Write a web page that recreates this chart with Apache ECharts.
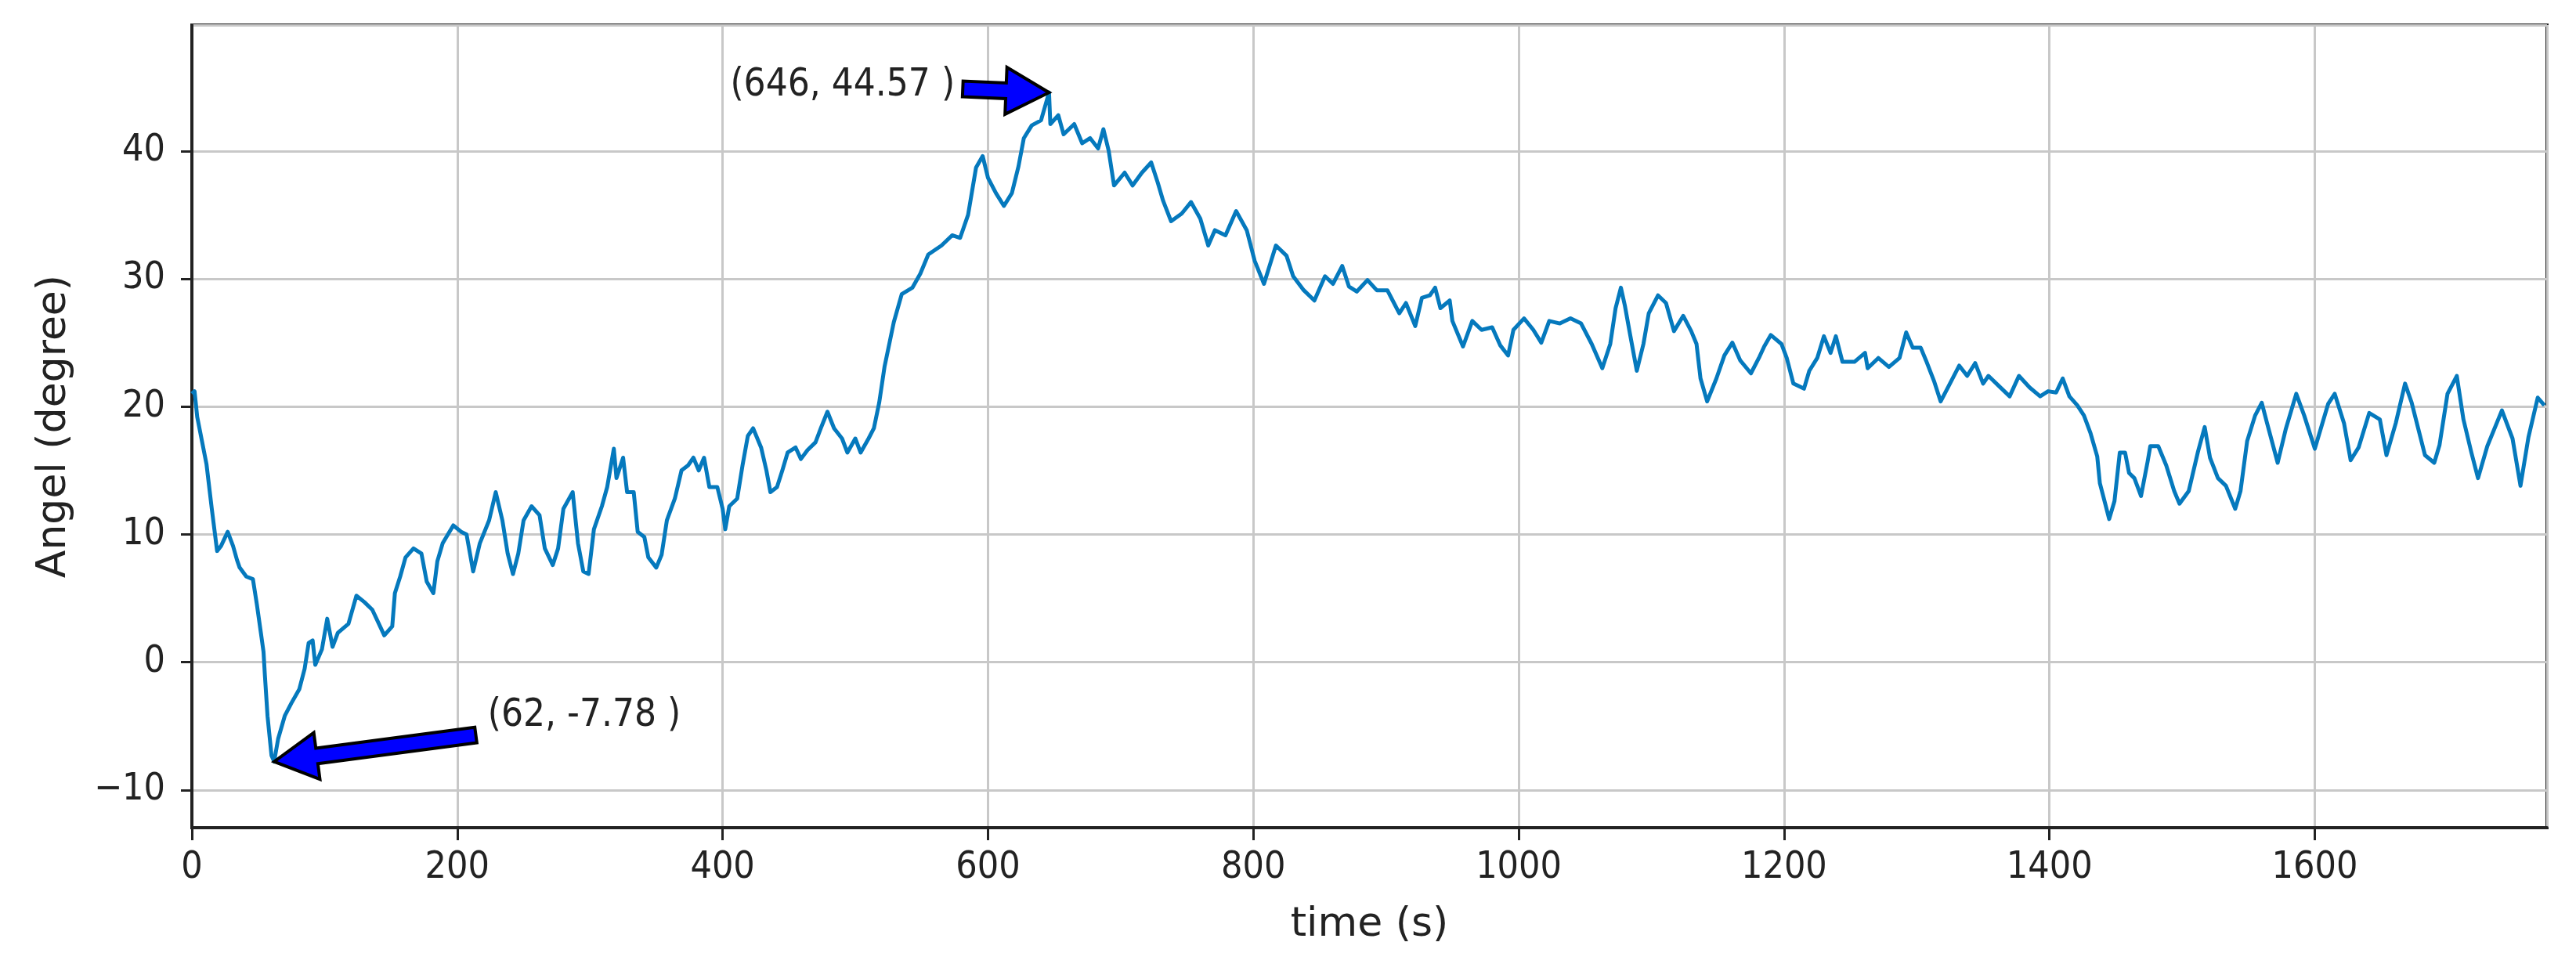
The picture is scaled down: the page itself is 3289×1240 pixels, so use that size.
<!DOCTYPE html>
<html>
<head>
<meta charset="utf-8">
<title>Angel vs time</title>
<script src="https://cdn.jsdelivr.net/npm/echarts@6/dist/echarts.min.js"></script>
<style>
    html, body {
        margin: 0;
        padding: 0;
        background: #fff;
    }
    #angleChart {
        width: 3289px;
        height: 1240px;
    }
</style>
</head>
<body>
<div id="angleChart"></div>
<script>
    // values
    const timeS = [0, 2, 4, 11, 15, 19, 22, 27, 31, 34, 36, 41, 46, 49, 52, 54, 55, 57, 60, 62,
        65, 70, 75, 81, 85, 88, 91, 93, 98, 102, 106, 110, 118, 124, 130, 136, 145, 151, 153, 157,
        161, 167, 173, 177, 182, 185, 189, 197, 203, 207, 212, 217, 224, 229, 234, 238, 242, 246, 250, 256,
        262, 266, 272, 276, 280, 287, 291, 295, 299, 303, 309, 313, 318, 320, 325, 328, 333, 336, 341, 344,
        350, 354, 358, 364, 369, 374, 378, 382, 386, 390, 396, 400, 402, 405, 411, 415, 419, 423, 429, 433,
        436, 441, 445, 449, 455, 459, 464, 470, 474, 479, 484, 490, 494, 500, 504, 510, 514, 518, 522, 526,
        529, 535, 543, 549, 555, 565, 573, 579, 585, 591, 596, 600, 606, 612, 618, 623, 627, 633, 640, 646,
        647, 653, 657, 665, 671, 677, 683, 687, 691, 695, 703, 709, 716, 723, 728, 732, 738, 746, 753, 760,
        766, 771, 779, 787, 795, 801, 808, 817, 825, 830, 838, 846, 854, 860, 867, 872, 878, 886, 893, 901,
        905, 910, 915, 922, 927, 933, 937, 941, 948, 950, 958, 965, 972, 980, 986, 992, 996, 1004, 1011, 1017,
        1023, 1031, 1039, 1047, 1055, 1063, 1069, 1073, 1077, 1080, 1084, 1089, 1094, 1098, 1105, 1111, 1117, 1124, 1130, 1134,
        1137, 1142, 1149, 1155, 1161, 1167, 1175, 1181, 1185, 1190, 1198, 1202, 1207, 1215, 1219, 1225, 1230, 1235, 1239, 1244,
        1253, 1261, 1263, 1271, 1279, 1287, 1292, 1297, 1303, 1307, 1313, 1318, 1324, 1332, 1338, 1344, 1350, 1354, 1362, 1370,
        1377, 1385, 1393, 1399, 1405, 1410, 1415, 1421, 1426, 1431, 1436, 1438, 1442, 1445, 1449, 1453, 1457, 1460, 1464, 1469,
        1474, 1476, 1482, 1488, 1494, 1498, 1505, 1512, 1517, 1521, 1527, 1533, 1540, 1544, 1549, 1555, 1560, 1564, 1572, 1578,
        1586, 1592, 1600, 1610, 1615, 1622, 1627, 1633, 1641, 1649, 1654, 1661, 1668, 1673, 1683, 1690, 1694, 1700, 1707, 1712,
        1718, 1723, 1730, 1741, 1749, 1755, 1761, 1768, 1773];
    const angleDeg = [21.0, 21.2, 19.2, 15.5, 12.0, 8.7, 9.1, 10.2, 9.1, 8.0, 7.4, 6.7, 6.5, 4.5, 2.3, 0.8, -1.0, -4.2, -7.3, -7.78,
        -6.0, -4.2, -3.2, -2.1, -0.5, 1.5, 1.7, -0.2, 1.0, 3.4, 1.2, 2.3, 3.0, 5.2, 4.7, 4.1, 2.1, 2.8, 5.4, 6.7,
        8.2, 8.9, 8.5, 6.3, 5.4, 7.9, 9.3, 10.7, 10.2, 10.0, 7.1, 9.3, 11.1, 13.3, 11.1, 8.5, 6.9, 8.5, 11.1, 12.2,
        11.5, 8.9, 7.6, 8.9, 12.0, 13.3, 9.3, 7.1, 6.9, 10.4, 12.2, 13.7, 16.7, 14.4, 16.0, 13.3, 13.3, 10.2, 9.8, 8.2,
        7.4, 8.4, 11.1, 12.8, 15.0, 15.4, 16.0, 15.0, 16.0, 13.7, 13.7, 12.0, 10.4, 12.2, 12.8, 15.4, 17.7, 18.3, 16.8, 15.0,
        13.3, 13.7, 15.0, 16.4, 16.8, 15.9, 16.6, 17.2, 18.3, 19.6, 18.3, 17.5, 16.4, 17.5, 16.4, 17.5, 18.3, 20.3, 23.1, 25.1,
        26.6, 28.8, 29.3, 30.4, 31.9, 32.6, 33.4, 33.2, 35.0, 38.7, 39.6, 37.9, 36.7, 35.7, 36.7, 38.8, 41.0, 42.0, 42.4, 44.57,
        42.1, 42.8, 41.3, 42.1, 40.6, 41.0, 40.2, 41.7, 40.0, 37.3, 38.3, 37.3, 38.3, 39.1, 37.5, 36.1, 34.5, 35.1, 36.0, 34.7,
        32.6, 33.8, 33.4, 35.3, 33.8, 31.4, 29.6, 32.6, 31.8, 30.2, 29.1, 28.3, 30.2, 29.6, 31.0, 29.4, 29.0, 29.9, 29.1, 29.1,
        28.3, 27.3, 28.1, 26.3, 28.5, 28.7, 29.3, 27.7, 28.3, 26.7, 24.7, 26.7, 26.0, 26.2, 24.8, 24.0, 26.0, 26.9, 26.0, 25.0,
        26.7, 26.5, 26.9, 26.5, 24.9, 23.0, 24.9, 27.7, 29.3, 27.9, 25.6, 22.8, 24.9, 27.3, 28.7, 28.1, 25.9, 27.1, 25.9, 24.9,
        22.2, 20.4, 22.2, 24.0, 25.0, 23.6, 22.6, 23.8, 24.7, 25.6, 24.9, 23.8, 21.8, 21.4, 22.8, 23.8, 25.5, 24.2, 25.5, 23.5,
        23.5, 24.2, 23.0, 23.8, 23.1, 23.8, 25.8, 24.6, 24.6, 23.6, 22.0, 20.4, 21.6, 23.2, 22.4, 23.4, 21.8, 22.4, 21.6, 20.8,
        22.4, 21.5, 20.8, 21.2, 21.1, 22.2, 20.8, 20.1, 19.3, 17.9, 16.1, 14.0, 12.4, 11.2, 12.6, 16.4, 16.4, 14.8, 14.4, 13.0,
        15.7, 16.9, 16.9, 15.4, 13.4, 12.4, 13.4, 16.5, 18.4, 16.0, 14.4, 13.8, 12.0, 13.4, 17.3, 19.3, 20.3, 18.7, 15.6, 18.2,
        21.0, 19.3, 16.7, 20.2, 21.0, 18.7, 15.8, 16.8, 19.5, 19.0, 16.2, 18.7, 21.8, 20.3, 16.2, 15.6, 17.0, 21.0, 22.4, 19.0,
        16.4, 14.4, 16.9, 19.7, 17.5, 13.8, 17.6, 20.7, 20.1];

    // annotations: point, where the arrow starts, where the text sits
    const annotLabels = ['(646, 44.57 )', '(62, -7.78 )'];
    const annotPoints = [[646, 44.57], [62, -7.78]];
    const annotTails = [[581, 44.85], [214, -5.7]];
    const annotTexts = [[575, 45.1], [223, -4.2]];
    const annotAlign = ['right', 'left'];

    const tickFont = "'DejaVu Sans Condensed', 'DejaVu Sans', sans-serif";
    const nameFont = "'DejaVu Sans', sans-serif";

    let myChart = echarts.init(document.getElementById('angleChart'), null, {renderer: 'canvas'});

    let option = {
        animation: false,
        backgroundColor: '#fff',
        grid: {
            left: 245,
            right: 37,
            top: 32,
            bottom: 183,
            show: true,
            borderColor: '#222',
            borderWidth: 4,
            backgroundColor: '#fff'
        },
        xAxis: {
            type: 'value',
            min: 0,
            max: 1775,
            interval: 200,
            name: 'time (s)',
            nameLocation: 'middle',
            nameGap: 98,
            nameTextStyle: {
                fontFamily: nameFont,
                fontSize: 52,
                color: '#222'
            },
            axisLine: {onZero: false, lineStyle: {color: '#222', width: 4}},
            axisTick: {show: true, length: 16, lineStyle: {color: '#222', width: 3}},
            axisLabel: {
                showMaxLabel: false,
                margin: 28,
                fontFamily: tickFont,
                fontSize: 48,
                color: '#222',
                formatter: function (v) {
                    return String(v);
                }
            },
            splitLine: {show: true, lineStyle: {color: '#c8c8c8', width: 3}}
        },
        yAxis: {
            type: 'value',
            min: -12.95,
            max: 49.85,
            name: 'Angel (degree)',
            nameLocation: 'middle',
            nameGap: 150,
            nameRotate: 90,
            nameTextStyle: {
                fontFamily: nameFont,
                fontSize: 52,
                color: '#222'
            },
            axisLine: {show: true, onZero: false, lineStyle: {color: '#222', width: 4}},
            axisTick: {show: true, length: 14, lineStyle: {color: '#222', width: 3}},
            axisLabel: {
                showMinLabel: false,
                showMaxLabel: false,
                margin: 34,
                fontFamily: tickFont,
                fontSize: 48,
                color: '#222',
                formatter: function (v) {
                    return v < 0 ? '\u2212' + (-v) : String(v);
                }
            },
            splitLine: {show: true, lineStyle: {color: '#c8c8c8', width: 3}}
        },
        series: [
            {
                type: 'line',
                data: timeS.map((t, i) => [t, angleDeg[i]]),
                showSymbol: false,
                symbol: 'none',
                lineStyle: {color: '#0579bd', width: 5, join: 'round'},
                z: 3
            }
        ]
    };
    myChart.setOption(option);

    // fat blue arrows like matplotlib annotate
    function arrowPoints(tail, tip) {
        let dx = tip[0] - tail[0], dy = tip[1] - tail[1];
        let len = Math.sqrt(dx * dx + dy * dy);
        let ux = dx / len, uy = dy / len;
        let nx = -uy, ny = ux;
        let shaft = 10, head = 30, headLen = 55;
        let bx = tip[0] - ux * headLen, by = tip[1] - uy * headLen;
        return [
            [tail[0] + nx * shaft, tail[1] + ny * shaft],
            [bx + nx * shaft, by + ny * shaft],
            [bx + nx * head, by + ny * head],
            [tip[0], tip[1]],
            [bx - nx * head, by - ny * head],
            [bx - nx * shaft, by - ny * shaft],
            [tail[0] - nx * shaft, tail[1] - ny * shaft]
        ];
    }

    let graphics = [];
    annotPoints.forEach((p, i) => {
        let tip = myChart.convertToPixel({gridIndex: 0}, p);
        let tail = myChart.convertToPixel({gridIndex: 0}, annotTails[i]);
        let txt = myChart.convertToPixel({gridIndex: 0}, annotTexts[i]);
        graphics.push({
            type: 'polygon',
            shape: {points: arrowPoints(tail, tip)},
            style: {fill: '#0000ff', stroke: '#000', lineWidth: 4, lineJoin: 'miter'},
            z: 10
        });
        graphics.push({
            type: 'text',
            x: txt[0],
            y: txt[1],
            style: {
                text: annotLabels[i],
                fontFamily: tickFont,
                fontSize: 49,
                fill: '#222',
                align: annotAlign[i],
                verticalAlign: 'middle'
            },
            z: 10
        });
    });
    myChart.setOption({graphic: graphics});
</script>
</body>
</html>
